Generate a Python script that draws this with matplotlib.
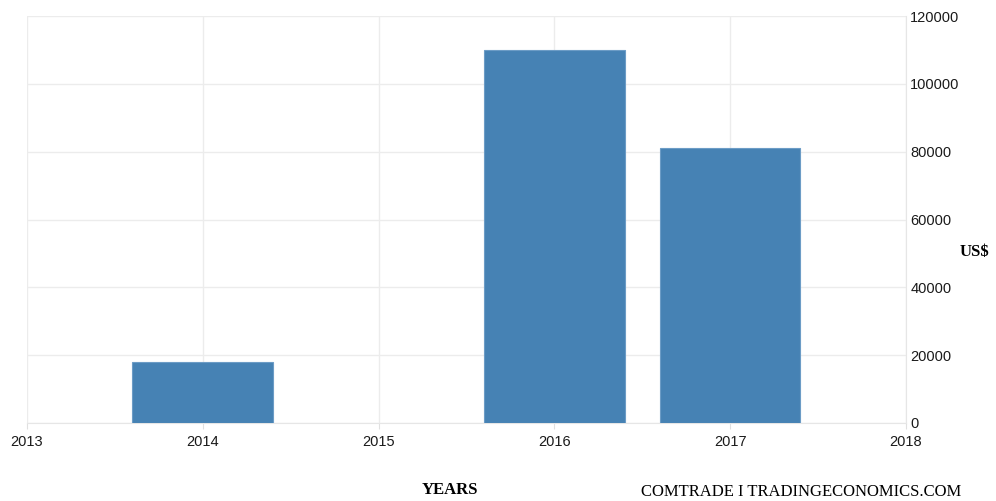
import matplotlib
matplotlib.use("Agg")
import matplotlib.pyplot as plt

years = [2014, 2016, 2017]
values = [18000, 110000, 81000]
x_ticks = [2013, 2014, 2015, 2016, 2017, 2018]
y_ticks = [0, 20000, 40000, 60000, 80000, 100000, 120000]

fig = plt.figure(figsize=(9.96, 5.01), dpi=100)
ax = fig.add_axes([0.0271, 0.1557, 0.8825, 0.8123])

ax.bar(years, values, width=0.8, color="#4682b4", edgecolor="#6c9cc6", linewidth=0.8, zorder=3)

ax.set_xlim(2013, 2018)
ax.set_ylim(0, 120000)
ax.set_xticks(x_ticks)
ax.set_xticklabels([str(y) for y in x_ticks])
ax.set_yticks(y_ticks)
ax.set_yticklabels([str(v) for v in y_ticks])

ax.yaxis.tick_right()
ax.grid(True, color="#ececec", linewidth=1.0, zorder=0)
for side in ["top", "left"]:
    ax.spines[side].set_visible(False)
ax.spines["right"].set_color("#e6e6e6")
ax.spines["bottom"].set_color("#e6e6e6")
ax.tick_params(axis="x", length=4, color="#e0e0e0", labelsize=10.5, pad=5, labelcolor="#1a1a1a")
ax.tick_params(axis="y", length=0, labelsize=10.5, pad=3, labelcolor="#1a1a1a")
for lbl in ax.get_xticklabels() + ax.get_yticklabels():
    lbl.set_fontfamily("Liberation Sans")

fig.text(0.978, 0.497, "US$", fontfamily="Liberation Serif", fontweight="bold", fontsize=12, ha="center", va="center")
fig.text(0.452, 0.022, "YEARS", fontfamily="Liberation Serif", fontweight="bold", fontsize=12, ha="center", va="center")
fig.text(0.8045, 0.018, "COMTRADE I TRADINGECONOMICS.COM", fontfamily="Liberation Serif", fontsize=12, ha="center", va="center")

fig.savefig("out.png", dpi=100)
